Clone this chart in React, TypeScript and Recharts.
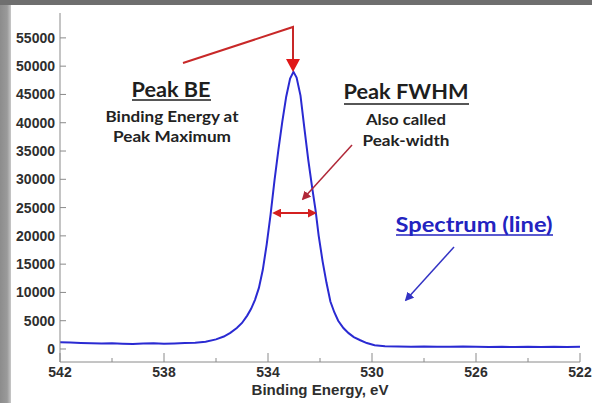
import { LineChart, Line, XAxis, YAxis } from "recharts";

// O 1s spectrum
const energy = [
  542.0, 541.6, 541.2, 540.8, 540.4, 540.0, 539.6, 539.2, 538.8, 538.4, 538.0,
  537.6, 537.2, 536.8, 536.4, 536.0, 535.7, 535.45, 535.2, 535.0, 534.8, 534.65,
  534.5, 534.35, 534.2, 534.05, 533.9, 533.75, 533.6, 533.45, 533.3, 533.15,
  533.02, 532.9, 532.75, 532.6, 532.45, 532.3, 532.17, 532.05, 531.9, 531.75,
  531.6, 531.45, 531.3, 531.1, 530.9, 530.7, 530.45, 530.2, 529.9, 529.5, 529.0,
  528.5, 528.0, 527.5, 527.0, 526.5, 526.0, 525.5, 525.0, 524.5, 524.0, 523.5,
  523.0, 522.5, 522.0,
];
const counts = [
  1200, 1150, 1080, 1020, 960, 1000, 940, 900, 960, 1000, 930,
  980, 1050, 1120, 1300, 1700, 2200, 2850, 3700, 4600, 5900, 7100,
  8700, 10800, 14000, 18500, 23800, 29800, 35200, 40200, 44600, 47800,
  49000, 48000, 44800, 39000, 33400, 28500, 24500, 20000, 15500, 11700,
  8400, 6500, 5000, 3700, 2800, 2100, 1550, 1050, 650, 480, 420,
  410, 440, 400, 380, 420, 390, 360, 380, 330, 400, 360,
  380, 340, 390,
];

const countTicks = [0, 5000, 10000, 15000, 20000, 25000, 30000, 35000, 40000, 45000, 50000, 55000];
const energyTicks = [542, 540, 538, 536, 534, 532, 530, 528, 526, 524, 522];
const labelledEnergies = [542, 538, 534, 530, 526, 522];

const spectrum = energy.map((e, i) => ({ energy: e, counts: counts[i] }));

const tickFont = { fontFamily: "'Liberation Sans', Arial, sans-serif", fontWeight: 700, fontSize: 14, fill: "#2e2e2e" };
const noteFont = { fontFamily: "Lato, 'Open Sans', sans-serif", fontWeight: 700 };
const fit = { lengthAdjust: "spacingAndGlyphs" } as const;

function EnergyTick({ x, y, payload }: any) {
  const major = labelledEnergies.includes(payload.value);
  return (
    <g>
      <line x1={x} x2={x} y1={y} y2={y - (major ? 9 : 4)} stroke="#8a8a8a" strokeWidth={1} />
      {major && (
        <text x={x} y={y + 15} textAnchor="middle" {...tickFont}>
          {payload.value}
        </text>
      )}
    </g>
  );
}

function Annotations() {
  return (
    <svg width={592} height={403} style={{ position: "absolute", left: 0, top: 0, pointerEvents: "none" }}>
      <defs>
        <marker id="redHead" viewBox="0 0 10 10" refX="8" refY="5" markerWidth="4.5" markerHeight="4.5" orient="auto-start-reverse">
          <path d="M0,0 L10,5 L0,10 z" fill="#d42020" />
        </marker>
        <marker id="darkRedHead" viewBox="0 0 10 10" refX="8" refY="5" markerWidth="6" markerHeight="6" orient="auto">
          <path d="M0,0 L10,5 L0,10 z" fill="#b02838" />
        </marker>
        <marker id="blueHead" viewBox="0 0 10 10" refX="8" refY="5" markerWidth="6" markerHeight="6" orient="auto">
          <path d="M0,0 L10,5 L0,10 z" fill="#3333c4" />
        </marker>
      </defs>

      {/* peak position pointer */}
      <polyline points="183,63 293,27 293,60" fill="none" stroke="#c82828" strokeWidth={2} />
      <polygon points="286,59 300,59 293,72" fill="#e01818" />
      <text x={171} y={97} textAnchor="middle" fontSize={21} fill="#1e1e1e" textLength={79} {...fit} {...noteFont}>Peak BE</text>
      <line x1={132} x2={211} y1={100} y2={100} stroke="#1e1e1e" strokeWidth={1.5} />
      <text x={172} y={122} textAnchor="middle" fontSize={15.5} fill="#222" textLength={133} {...fit} {...noteFont}>Binding Energy at</text>
      <text x={172} y={142} textAnchor="middle" fontSize={15.5} fill="#222" textLength={118} {...fit} {...noteFont}>Peak Maximum</text>

      {/* width pointer and half-maximum span */}
      <line x1={352} y1={145} x2={303} y2={199} stroke="#b02838" strokeWidth={1.5} markerEnd="url(#darkRedHead)" />
      <line x1={274} y1={213} x2={315} y2={213} stroke="#d42020" strokeWidth={2}
        markerStart="url(#redHead)" markerEnd="url(#redHead)" />
      <text x={406} y={99} textAnchor="middle" fontSize={21} fill="#1e1e1e" textLength={125} {...fit} {...noteFont}>Peak FWHM</text>
      <line x1={344} x2={469} y1={104} y2={104} stroke="#1e1e1e" strokeWidth={1.5} />
      <text x={406} y={125} textAnchor="middle" fontSize={15.5} fill="#222" textLength={80} {...fit} {...noteFont}>Also called</text>
      <text x={406} y={146} textAnchor="middle" fontSize={15.5} fill="#222" textLength={87} {...fit} {...noteFont}>Peak-width</text>

      {/* spectrum pointer */}
      <text x={474} y={232} textAnchor="middle" fontSize={21} fill="#2323c0" textLength={157} {...fit} {...noteFont}>Spectrum (line)</text>
      <line x1={396} x2={553} y1={235} y2={235} stroke="#2323c0" strokeWidth={1.5} />
      <line x1={454} y1={247} x2={406} y2={300} stroke="#3333c4" strokeWidth={1.5} markerEnd="url(#blueHead)" />

      <text x={320} y={395} textAnchor="middle" {...tickFont} fontSize={14} textLength={137} {...fit}>Binding Energy, eV</text>
    </svg>
  );
}

export default function App() {
  return (
    <div style={{ position: "absolute", left: 0, top: 0, width: 592, height: 403, background: "#fff", overflow: "hidden" }}>
      <div style={{ position: "absolute", left: 0, top: 0, width: 592, height: 5, background: "#6f6f6f" }} />
      <div style={{ position: "absolute", left: 0, top: 5, width: 11, height: 398, background: "linear-gradient(to right, #8c8c8c 0%, #9a9a9a 65%, #c8c8c8 100%)" }} />
      <LineChart width={592} height={403} data={spectrum} margin={{ top: 13, right: 12, bottom: 11, left: 0 }}
        style={{ position: "absolute", left: 0, top: 0 }}>
        <XAxis dataKey="energy" type="number" domain={[522, 542]} reversed ticks={energyTicks} interval={0}
          allowDataOverflow height={30} tickSize={0} tickMargin={0} axisLine={{ stroke: "#8a8a8a" }} tick={<EnergyTick />} />
        <XAxis xAxisId="frame" orientation="top" type="number" domain={[522, 542]} height={0}
          tick={false} tickLine={false} axisLine={{ stroke: "#cfcfcf" }} />
        <YAxis type="number" domain={[-2300, 59400]} ticks={countTicks} interval={0} allowDataOverflow width={60}
          tickSize={-6} tickMargin={11} axisLine={{ stroke: "#8a8a8a" }} tickLine={{ stroke: "#8a8a8a" }} tick={tickFont} />
        <YAxis yAxisId="frame" orientation="right" type="number" domain={[0, 1]} width={0}
          tick={false} tickLine={false} axisLine={{ stroke: "#cfcfcf" }} />
        <Line dataKey="counts" type="linear" stroke="#2a2ad2" strokeWidth={2} dot={false} isAnimationActive={false} />
      </LineChart>
      <Annotations />
    </div>
  );
}
